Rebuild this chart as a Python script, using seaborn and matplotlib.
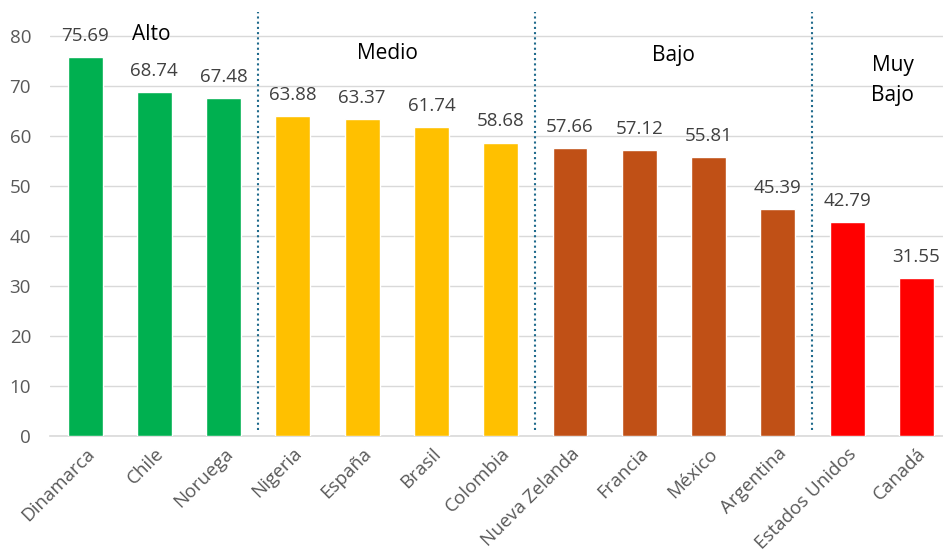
import matplotlib
matplotlib.use("Agg")
import matplotlib.pyplot as plt
import seaborn as sns
import pandas as pd

countries = ["Dinamarca", "Chile", "Noruega", "Nigeria", "España", "Brasil", "Colombia",
             "Nueva Zelanda", "Francia", "México", "Argentina", "Estados Unidos", "Canadá"]
scores = [75.69, 68.74, 67.48, 63.88, 63.37, 61.74, 58.68,
          57.66, 57.12, 55.81, 45.39, 42.79, 31.55]
levels = ["Alto"] * 3 + ["Medio"] * 4 + ["Bajo"] * 4 + ["Muy Bajo"] * 2
level_colors = {"Alto": "#00B050", "Medio": "#FFC000", "Bajo": "#C05016", "Muy Bajo": "#FF0000"}
yticks = [0, 10, 20, 30, 40, 50, 60, 70, 80]

df = pd.DataFrame({"pais": countries, "valor": scores, "nivel": levels})

sns.set_style("white")
plt.rcParams["font.family"] = ["Open Sans", "DejaVu Sans"]

fig = plt.figure(figsize=(9.43, 5.6), dpi=100)
ax = fig.add_axes([0.0535, 0.221, 0.955, 0.758])

sns.barplot(data=df, x="pais", y="valor", hue="nivel", palette=level_colors,
            dodge=False, width=0.505, saturation=1, legend=False, ax=ax, zorder=3)

ax.set_ylim(0, 84.8)
ax.set_xlim(-0.5, len(countries) - 0.5)
ax.set_yticks(yticks)
ax.grid(axis="y", color="#D9D9D9", linewidth=1, zorder=0)
for s in ["top", "right", "left"]:
    ax.spines[s].set_visible(False)
ax.spines["bottom"].set_color("#D9D9D9")
ax.spines["bottom"].set_linewidth(1.2)
ax.set_xlabel("")
ax.set_ylabel("")
ax.tick_params(axis="y", length=0, labelsize=13.5, labelcolor="#595959", pad=14)
ax.tick_params(axis="x", length=0, labelsize=13.5, labelcolor="#595959", pad=6)
plt.setp(ax.get_xticklabels(), rotation=45, ha="right", rotation_mode="anchor")

for i, v in enumerate(scores):
    ax.text(i, v + 2.4, f"{v:.2f}", ha="center", va="bottom", fontsize=13.5, color="#404040")

# group separators
for xsep in [2.5, 6.5, 10.5]:
    ax.plot([xsep, xsep], [1.2, 84.8], linestyle=(0, (1, 1.5)), color="#1F6A8C",
            linewidth=1.5, zorder=4, clip_on=False)

group_labels = [("Alto", 0.95, 80.2), ("Medio", 4.37, 76.5), ("Bajo", 8.5, 76.0), ("Muy\nBajo", 11.66, 71.0)]
for txt, gx, gy in group_labels:
    ax.text(gx, gy, txt, ha="center", va="center", fontsize=15, color="black", linespacing=1.55)

fig.savefig("out.png", dpi=100)
